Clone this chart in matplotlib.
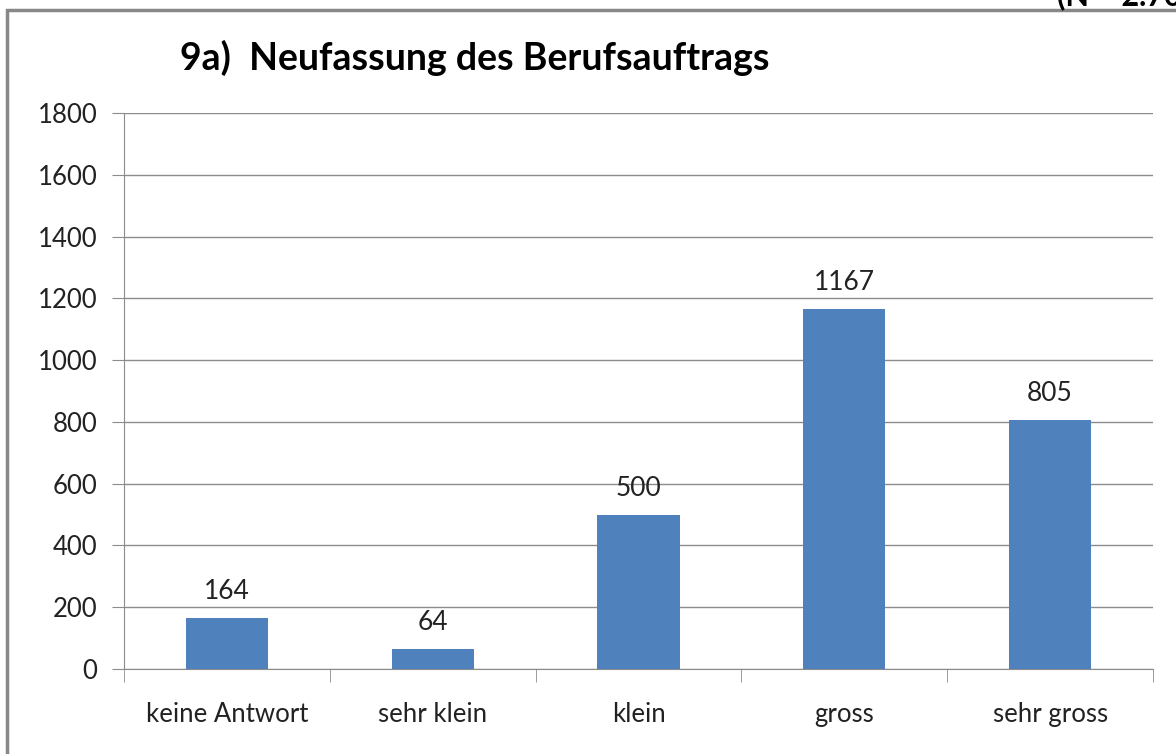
import matplotlib.pyplot as plt
from matplotlib.patches import Rectangle
import numpy as np

plt.rcParams['font.family'] = ['Lato', 'DejaVu Sans']

categories = ['keine Antwort', 'sehr klein', 'klein', 'gross', 'sehr gross']
values = [164, 64, 500, 1167, 805]
title = '9a)  Neufassung des Berufsauftrags'
note = '(N = 2.700)'

fig = plt.figure(figsize=(11.76, 7.54), dpi=100)
ax = fig.add_axes([124/1176, 1-669/754, (1153-124)/1176, (669-113)/754])

x = np.arange(len(categories))
bars = ax.bar(x, values, width=0.4, color='#4F81BD', zorder=3)
for xi, v in zip(x, values):
    ax.text(xi, v + 45, str(v), ha='center', va='bottom', fontsize=19, color='#222222')

ax.set_xlim(-0.5, len(categories) - 0.5)
ax.set_ylim(0, 1800)
ax.set_yticks(range(0, 1801, 200))
ax.yaxis.grid(True, color='#8c8c8c', linewidth=1, zorder=0)
ax.set_xticks(x)
ax.set_xticklabels(categories)
ax.set_xticks(np.arange(-0.5, len(categories)), minor=True)
ax.tick_params(axis='x', which='major', length=0, pad=24, labelsize=18.5, labelcolor='#222222')
ax.tick_params(axis='x', which='minor', length=9, color='#8c8c8c', direction='out')
ax.tick_params(axis='y', length=9, color='#8c8c8c', pad=10, labelsize=18.5, labelcolor='#222222')
for s in ['top', 'right']:
    ax.spines[s].set_visible(False)
for s in ['left', 'bottom']:
    ax.spines[s].set_color('#8c8c8c')

fig.text(180/1176, 1-58/754, title, fontsize=27, fontweight='bold', va='center', ha='left')
fig.text(1057/1176, 1-5/754, note, fontsize=22, fontweight='bold', va='baseline', ha='left')

fig.patches.append(Rectangle((7/1176, -0.05), 1.1, 1-10/754 + 0.05, transform=fig.transFigure,
                             fill=False, edgecolor='#888888', linewidth=2.5))

fig.savefig('out.png', dpi=100)
